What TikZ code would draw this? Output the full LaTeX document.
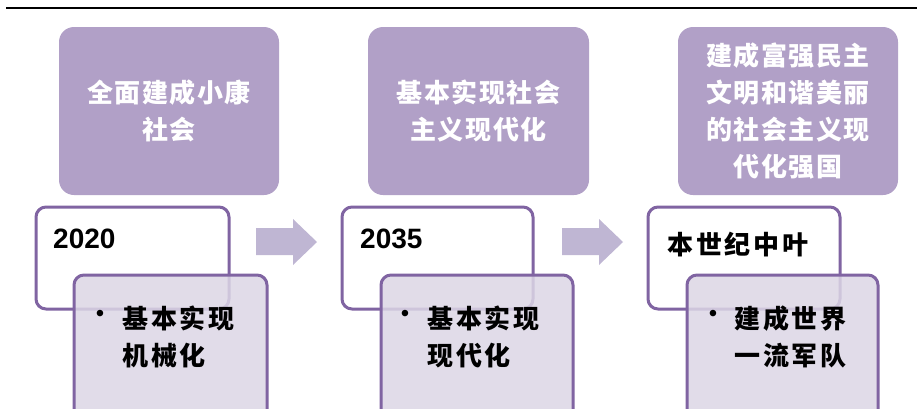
\documentclass[tikz,border=0pt]{standalone}
\usepackage{fontspec}
\setmainfont{Liberation Sans}
\newfontfamily\cjkA{Noto Sans CJK SC}[LetterSpace=6]
\newfontfamily\cjkB{Noto Sans CJK SC}[LetterSpace=11]
\definecolor{topfill}{HTML}{B1A0C7}
\definecolor{pborder}{HTML}{8064A2}
\definecolor{lowfill}{HTML}{DCD6E5}
\definecolor{arrowfill}{HTML}{BFB6D3}
\tikzset{
  topbox/.style={rounded corners=15pt, fill=topfill, minimum height=168pt, inner sep=0pt},
  toptext/.style={text=white, align=center, inner sep=0pt, font=\cjkA\bfseries\fontsize{26}{37}\selectfont},
  yearbox/.style={rounded corners=10pt, draw=pborder, line width=3pt, fill=white, minimum height=102pt, inner sep=0pt},
  lowbox/.style={rounded corners=10pt, draw=pborder, line width=3pt, fill=lowfill, fill opacity=0.85, minimum height=145pt, inner sep=0pt},
  yeartext/.style={anchor=west, inner sep=0pt, font=\bfseries\fontsize{28}{28}\selectfont},
  cjktext/.style={anchor=north west, align=left, inner sep=0pt, font=\cjkB\bfseries\fontsize{26}{37}\selectfont},
  bullet/.style={inner sep=0pt, font=\fontsize{24}{24}\selectfont},
  blockarrow/.style={fill=arrowfill}
}
\begin{document}
\begin{tikzpicture}[x=1pt,y=-1pt]
\useasboundingbox (0,0) rectangle (917,408);
\clip (0,0) rectangle (917,408);
% top rule
\coordinate (r1) at (6,7.5);
\coordinate (r2) at (917,7.5);
\draw[line width=2pt] (r1) -- (r2);
% top boxes
\node[topbox, minimum width=220pt] (t1) at (169,111) {};
\node[toptext] (t1t) at (t1.center) {全面建成小康\\社会};
\node[topbox, minimum width=221pt] (t2) at (478.5,111) {};
\node[toptext] (t2t) at (t2.center) {基本实现社会\\主义现代化};
\node[topbox, minimum width=220pt] (t3) at (788,111) {};
\node[toptext] (t3t) at (t3.center) {建成富强民主\\文明和谐美丽\\的社会主义现\\代化强国};
% year boxes
\node[yearbox, minimum width=193pt] (w1) at (132.5,258) {};
\node[yearbox, minimum width=191pt] (w2) at (437.5,258) {};
\node[yearbox, minimum width=192pt] (w3) at (744,258) {};
% lower boxes
\node[lowbox, minimum width=193pt] (l1) at (170.5,347.5) {};
\node[lowbox, minimum width=192pt] (l2) at (477,347.5) {};
\node[lowbox, minimum width=191pt] (l3) at (782.5,347.5) {};
% texts
\node[yeartext] (y1) at (53,239) {2020};
\node[yeartext] (y2) at (360,239) {2035};
\node[anchor=west, inner sep=0pt, font=\cjkB\bfseries\fontsize{26}{37}\selectfont] (y3) at (667,245) {本世纪中叶};
\node[bullet] (b1) at (100,316) {•};
\node[cjktext] (x1) at (122,306) {基本实现\\机械化};
\node[bullet] (b2) at (405,316) {•};
\node[cjktext] (x2) at (427,306) {基本实现\\现代化};
\node[bullet] (b3) at (713,316) {•};
\node[cjktext] (x3) at (734,306) {建成世界\\一流军队};
% block arrows
\fill[blockarrow] (256,228) -- (293,228) -- (293,219) -- (317,242) -- (293,265) -- (293,255) -- (256,255) -- cycle;
\fill[blockarrow] (562,228) -- (599,228) -- (599,219) -- (623,242) -- (599,265) -- (599,255) -- (562,255) -- cycle;
\end{tikzpicture}
\end{document}
